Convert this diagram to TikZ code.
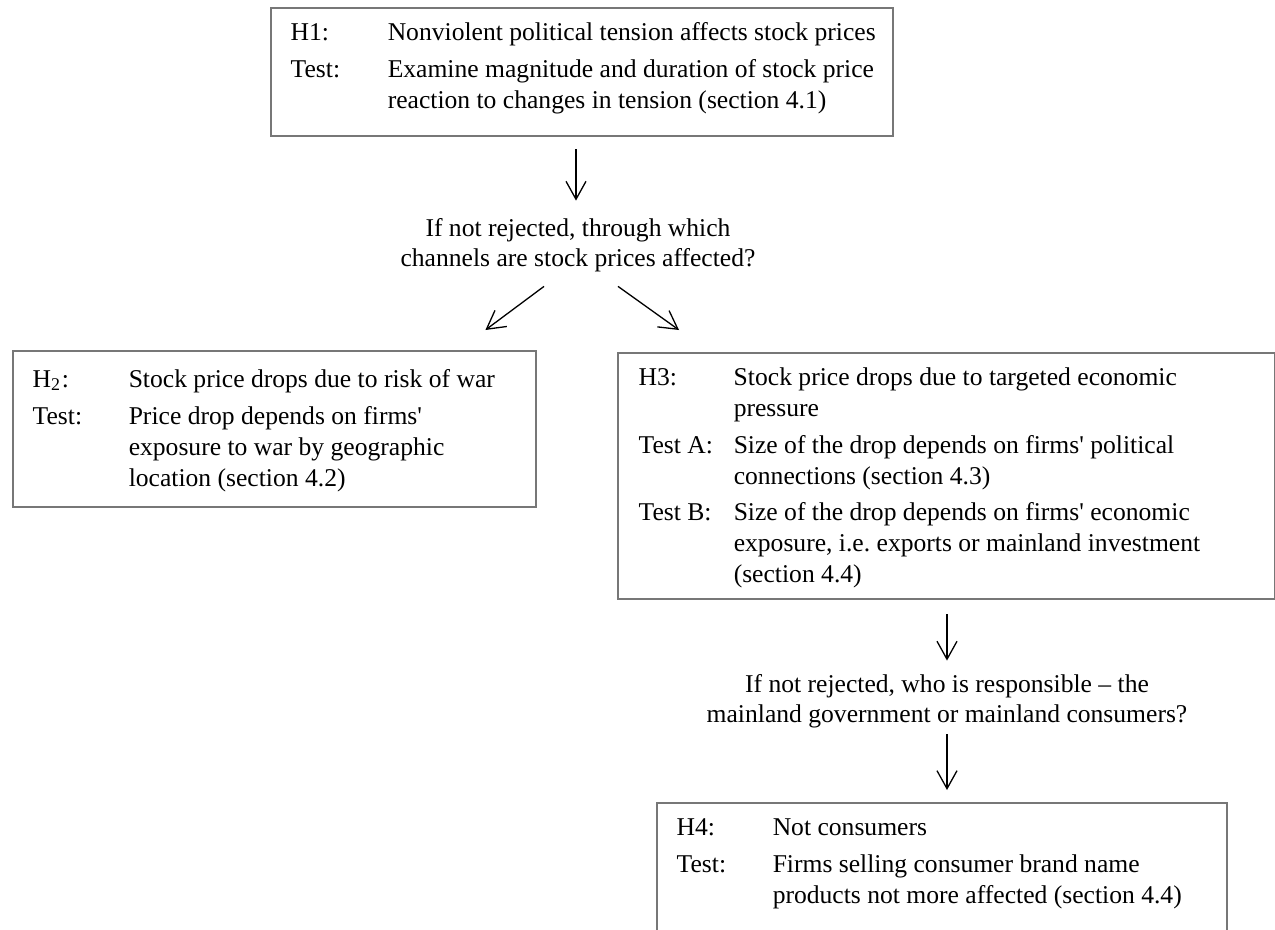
\documentclass[tikz,border=0pt]{standalone}
\usepackage{fontspec}
\setmainfont{Liberation Serif}
\definecolor{boxGray}{HTML}{777777}
\usetikzlibrary{positioning,arrows.meta,calc}

\begin{document}
\begin{tikzpicture}[x=0.01cm,y=-0.01cm,
  hbox/.style={draw=boxGray, line width=0.6pt, anchor=north west, inner sep=0pt},
  htext/.style={anchor=north west, inner sep=0pt, font=\fontsize{7.28}{8.79}\selectfont},
  qtext/.style={align=center, inner sep=0pt, font=\fontsize{7.28}{8.5}\selectfont},
  flow/.style={-{Straight Barb[length=1.8mm,width=2mm]}, line width=0.37pt}]
  \useasboundingbox (0,0) rectangle (1275,930);
  % Hypothesis boxes
  \node[hbox, minimum width=6.22cm, minimum height=1.28cm] (h1) at (270,7) {};
  \node[hbox, minimum width=5.23cm, minimum height=1.56cm] (h2) at (12,350) {};
  \node[hbox, minimum width=6.57cm, minimum height=2.46cm] (h3) at (617,352) {};
  \node[hbox, minimum width=5.70cm, minimum height=1.60cm] (h4) at (656,802) {};
  % Box texts
  \node[htext] (t1) at (290,18) {\begin{tabular}{@{}p{0.97cm}@{}l@{}}
    H1: & Nonviolent political tension affects stock prices\\[1.7pt]
    Test: & Examine magnitude and duration of stock price\\
     & reaction to changes in tension (section 4.1)
  \end{tabular}};
  \node[htext] (t2) at (32,365) {\begin{tabular}{@{}p{0.96cm}@{}l@{}}
    H\textsubscript{2}: & Stock price drops due to risk of war\\[1.7pt]
    Test: & Price drop depends on firms\textquotesingle\\
     & exposure to war by geographic\\
     & location (section 4.2)
  \end{tabular}};
  \node[htext] (t3) at (638,363) {\begin{tabular}{@{}p{0.95cm}@{}l@{}}
    H3: & Stock price drops due to targeted economic\\
     & pressure\\[1.7pt]
    Test A: & Size of the drop depends on firms\textquotesingle{} political\\
     & connections (section 4.3)\\[1.7pt]
    Test B: & Size of the drop depends on firms\textquotesingle{} economic\\
     & exposure, i.e.\ exports or mainland investment\\
     & (section 4.4)
  \end{tabular}};
  \node[htext] (t4) at (676,813) {\begin{tabular}{@{}p{0.96cm}@{}l@{}}
    H4: & Not consumers\\[1.7pt]
    Test: & Firms selling consumer brand name\\
     & products not more affected (section 4.4)
  \end{tabular}};
  % Questions between the boxes
  \node[qtext] (q1) at (578,245) {If not rejected, through which\\channels are stock prices affected?};
  \node[qtext] (q2) at (947,701) {If not rejected, who is responsible -- the\\mainland government or mainland consumers?};
  % Arrows
  \draw[flow] ($(q1.north |- h1.south)+(-2,12)$) -- ($(q1.north)+(-2,-17)$);
  \draw[flow] ($(q1.south)+(-34,14)$) -- ($(h2.north east)+(-52,-20)$);
  \draw[flow] ($(q1.south)+(40,14)$) -- ($(h3.north west)+(62,-22)$);
  \draw[flow] ($(q2.north |- h3.south)+(0,14)$) -- ($(q2.north)+(0,-13)$);
  \draw[flow] ($(q2.south)+(0,6)$) -- ($(h4.north -| q2.south)+(0,-12)$);
\end{tikzpicture}
\end{document}
